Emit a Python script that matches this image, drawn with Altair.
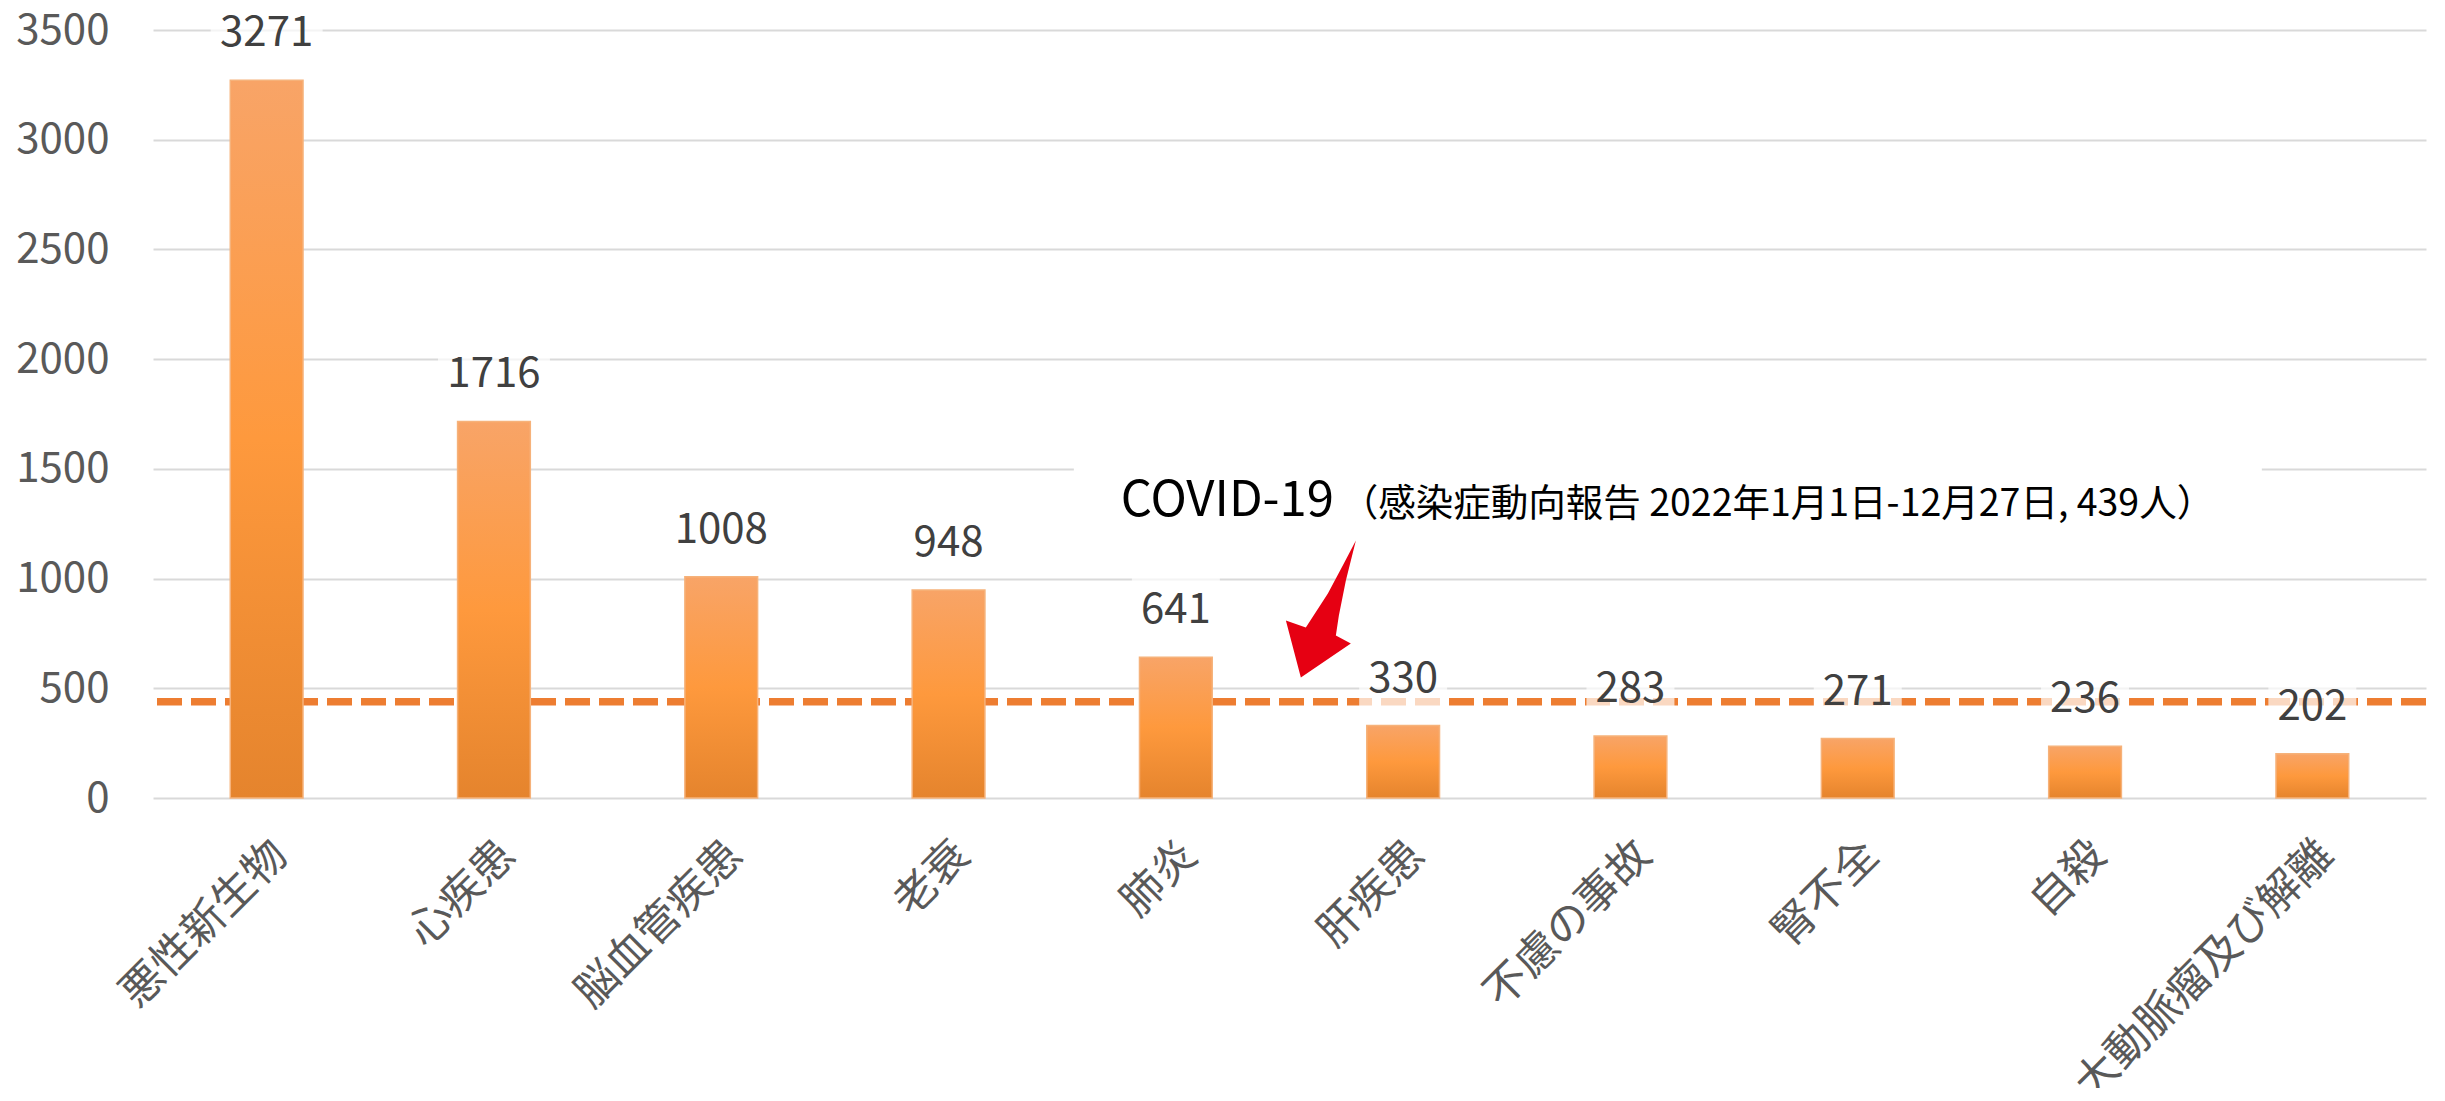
import altair as alt
import pandas as pd

# ---- data ----
categories = ["悪性新生物", "心疾患", "脳血管疾患", "老衰", "肺炎",
              "肝疾患", "不慮の事故", "腎不全", "自殺", "大動脈瘤及び解離"]
deaths = [3271, 1716, 1008, 948, 641, 330, 283, 271, 236, 202]
covid_deaths = [439]
y_ticks = [0, 500, 1000, 1500, 2000, 2500, 3000, 3500]
note_main = "COVID-19"
note_sub = "（感染症動向報告 2022年1月1日-12月27日, 439人）"
note_anchor_cause = ["肺炎"]
note_text_y = [1286]     # baseline of annotation text (data units)
note_box_y = [1377]      # centre of annotation background
arrow_y = [864]          # centre of arrow

FONT = "Noto Sans CJK JP"

df = pd.DataFrame({"cause": categories, "deaths": deaths})
df["label"] = df["deaths"].astype(str)
df["digits"] = df["label"].str.len().astype(str)

rule_df = pd.DataFrame({"deaths": covid_deaths})
text_df = pd.DataFrame({"cause": note_anchor_cause, "deaths": note_text_y})
nbox_df = pd.DataFrame({"cause": note_anchor_cause, "deaths": note_box_y})
arrow_df = pd.DataFrame({"cause": note_anchor_cause, "deaths": arrow_y})

x_enc = alt.X(
    "cause:N", sort=categories,
    scale=alt.Scale(paddingInner=0.68, paddingOuter=0.34),
    axis=alt.Axis(title=None, labelAngle=-45, labelAlign="right",
                  labelBaseline="middle", labelFontSize=43,
                  labelColor="#595959", labelFont=FONT, labelPadding=50,
                  labelOffset=14, ticks=False, domain=False, grid=False,
                  labelOverlap=False, labelLimit=1000),
)
y_enc = alt.Y(
    "deaths:Q",
    scale=alt.Scale(domain=[0, 3500], nice=False),
    axis=alt.Axis(title=None, values=y_ticks, format="d", labelFontSize=42,
                  labelColor="#595959", labelFont=FONT, labelPadding=44,
                  ticks=False, domain=False, grid=True,
                  gridColor="#D9D9D9", gridWidth=2),
)

rule = alt.Chart(rule_df).mark_rule(
    color="#ED7D31", strokeWidth=7.5, strokeDash=[25, 9]
).encode(y=y_enc)

grad = alt.Gradient(
    gradient="linear",
    stops=[alt.GradientStop(color="#F8A467", offset=0),
           alt.GradientStop(color="#FE993D", offset=0.5),
           alt.GradientStop(color="#E5842D", offset=1)],
    x1=0, x2=0, y1=0, y2=1,
)
bars = alt.Chart(df).mark_bar(
    color=grad, stroke="#F6B27A", strokeWidth=1.5
).encode(x=x_enc, y=y_enc)

box3 = "M-0.733,-0.567L0.733,-0.567L0.733,0.567L-0.733,0.567Z"
box4 = "M-0.933,-0.567L0.933,-0.567L0.933,0.567L-0.933,0.567Z"
boxes = alt.Chart(df).mark_point(
    filled=True, color="white", opacity=0.7, size=14400, yOffset=-47,
    strokeWidth=0
).encode(
    x=x_enc, y=y_enc,
    shape=alt.Shape("digits:N", scale=alt.Scale(domain=["3", "4"], range=[box3, box4]),
                    legend=None),
)

labels = alt.Chart(df).mark_text(
    font=FONT, fontSize=42, color="#404040", baseline="middle", dy=-47
).encode(x=x_enc, y=y_enc, text="label:N")

note_box = alt.Chart(nbox_df).mark_point(
    shape="M-0.99,-0.0667L0.99,-0.0667L0.99,0.0667L-0.99,0.0667Z",
    filled=True, color="white", opacity=1, size=1440000, xOffset=492,
    strokeWidth=0
).encode(x=x_enc, y=y_enc)

t1 = alt.Chart(text_df).mark_text(
    text=note_main, font=FONT, fontSize=49, color="#000000",
    align="left", baseline="alphabetic", dx=-55
).encode(x=x_enc, y=y_enc)

t2 = alt.Chart(text_df).mark_text(
    text=note_sub, font=FONT, fontSize=37.5, color="#000000",
    align="left", baseline="alphabetic", dx=165
).encode(x=x_enc, y=y_enc)

arrow_path = ("M0.529,-0.971 L0.386,-0.4 L0.286,0.1 L0.243,0.386 L0.457,0.5 "
              "L-0.257,0.986 L-0.471,0.171 L-0.186,0.271 L0.129,-0.214 "
              "L0.357,-0.643 Z")
arrow = alt.Chart(arrow_df).mark_point(
    shape=arrow_path, filled=True, color="#E60012", opacity=1, size=19600,
    xOffset=143, strokeWidth=0
).encode(x=x_enc, y=y_enc)

chart = alt.layer(
    rule, bars, boxes, labels, note_box, t1, t2, arrow
).properties(
    width=2273, height=768,
    autosize=alt.AutoSizeParams(type="none"),
    padding={"left": 145, "top": 22, "right": 11, "bottom": 290},
    background="white",
).configure_view(stroke=None)

chart.save("out.html", embed_options={"renderer": "svg", "actions": False})
